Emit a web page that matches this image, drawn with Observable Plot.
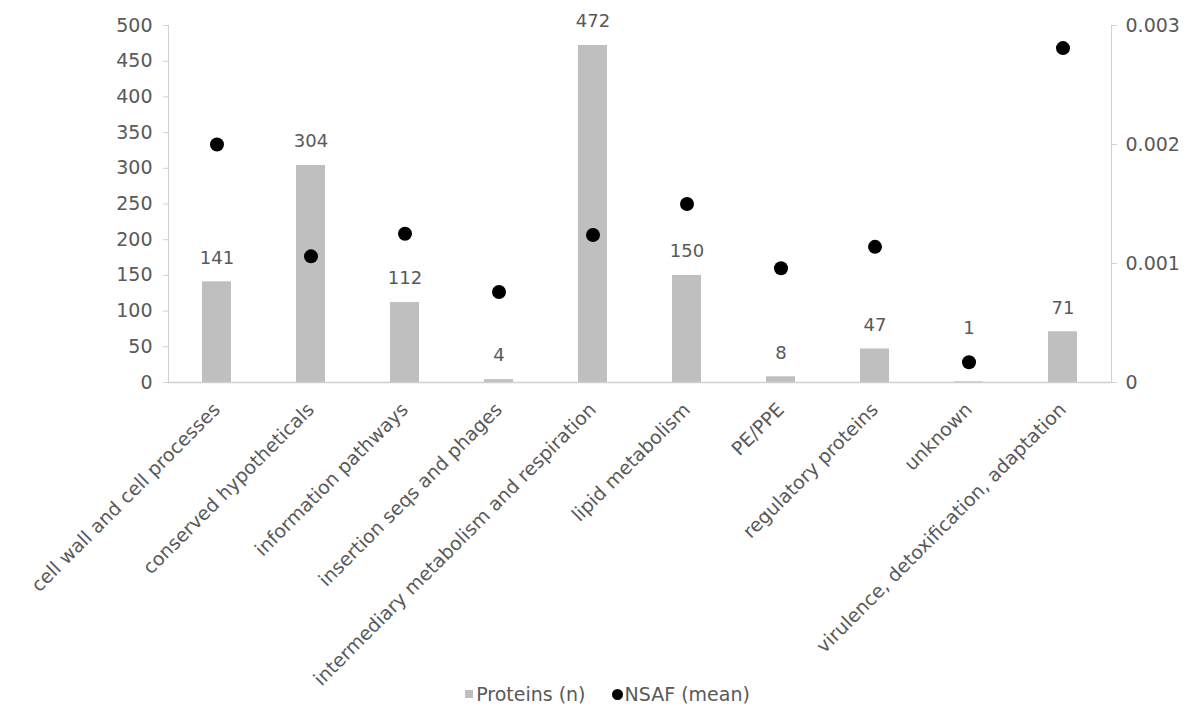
<!DOCTYPE html>
<html>
<head>
<meta charset="utf-8">
<script src="https://cdn.jsdelivr.net/npm/d3@7"></script>
<script src="https://cdn.jsdelivr.net/npm/@observablehq/plot@0.6"></script>
<style>
  body { margin: 0; background: #fff; font-family: "DejaVu Sans", sans-serif; }
  #chart svg { overflow: visible; }
  #legend { display: flex; justify-content: center; align-items: center; gap: 26px;
            line-height: 24px; font-size: 19px; color: #595959; padding-left: 30px; }
  #legend span.item { display: inline-flex; align-items: center; }
  .sq { width: 8px; height: 8px; background: #bfbfbf; display: inline-block; margin-right: 3px; }
  .dot { width: 11px; height: 11px; border-radius: 50%; background: #000; display: inline-block; margin-right: 2px; }
</style>
</head>
<body>
<div id="chart"></div>
<div id="legend">
  <span class="item"><span class="sq"></span>Proteins (n)</span>
  <span class="item"><span class="dot"></span>NSAF (mean)</span>
</div>
<script>
// Functional categories
const categories = [
  "cell wall and cell processes",
  "conserved hypotheticals",
  "information pathways",
  "insertion seqs and phages",
  "intermediary metabolism and respiration",
  "lipid metabolism",
  "PE/PPE",
  "regulatory proteins",
  "unknown",
  "virulence, detoxification, adaptation"
];
// Number of proteins per category (left axis)
const proteins = [141, 304, 112, 4, 472, 150, 8, 47, 1, 71];
// Mean NSAF per category (right axis)
const nsafMean = [0.00200, 0.00106, 0.00125, 0.00076, 0.00124, 0.00150, 0.00096, 0.00114, 0.00017, 0.00281];

const countTicks = [0, 50, 100, 150, 200, 250, 300, 350, 400, 450, 500];
const nsafTicks = [0, 0.001, 0.002, 0.003];
const nsafTickLabels = ["0", "0.001", "0.002", "0.003"];

const countMax = 500;
const nsafMax = 0.003;
const toCount = v => v * countMax / nsafMax; // map NSAF onto the count scale

const rows = categories.map((c, i) => ({category: c, n: proteins[i], nsaf: nsafMean[i]}));
// a count label would sit on its dot when the dot lies just above the bar
const clashes = d => toCount(d.nsaf) > d.n && toCount(d.nsaf) - d.n < 45;

const grey = "#595959";
const axisGrey = "#d0d0d0";

const chart = Plot.plot({
  width: 1185,
  height: 682,
  marginLeft: 168,
  marginRight: 74,
  marginTop: 25,
  marginBottom: 300,
  style: {fontFamily: "'DejaVu Sans', sans-serif", fontSize: "19px", color: grey, overflow: "visible"},
  x: {domain: categories, paddingInner: 0.69, paddingOuter: 0.345, label: null},
  y: {domain: [0, countMax], label: null},
  marks: [
    Plot.frame({anchor: "left", stroke: axisGrey}),
    Plot.frame({anchor: "right", stroke: axisGrey}),
    Plot.axisY({ticks: countTicks, tickSize: 5, tickPadding: 11, stroke: axisGrey, color: grey, fontSize: 19, label: null}),
    Plot.axisY(nsafTicks.map(toCount), {
      anchor: "right", tickSize: 5, tickPadding: 9, stroke: axisGrey, color: grey, fontSize: 19, label: null,
      tickFormat: (d, i) => nsafTickLabels[i]
    }),
    Plot.axisX({tickRotate: -45, tickSize: 0, tickPadding: 24, color: grey, fontSize: 19, label: null}),
    Plot.barY(rows, {x: "category", y: "n", fill: "#bfbfbf"}),
    Plot.ruleY([0], {stroke: axisGrey, strokeWidth: 1.5}),
    // count labels above the bars
    Plot.text(rows.filter(d => !clashes(d)), {x: "category", y: "n", text: d => String(d.n), dy: -24, fill: grey, fontSize: 18}),
    // count labels lifted above a dot that sits right on top of its bar
    Plot.text(rows.filter(clashes), {x: "category", y: d => toCount(d.nsaf), text: d => String(d.n), dy: -34, fill: grey, fontSize: 18}),
    Plot.dot(rows, {x: "category", y: d => toCount(d.nsaf), r: 7, fill: "#000", stroke: "none"})
  ]
});
document.getElementById("chart").append(chart);
</script>
</body>
</html>
